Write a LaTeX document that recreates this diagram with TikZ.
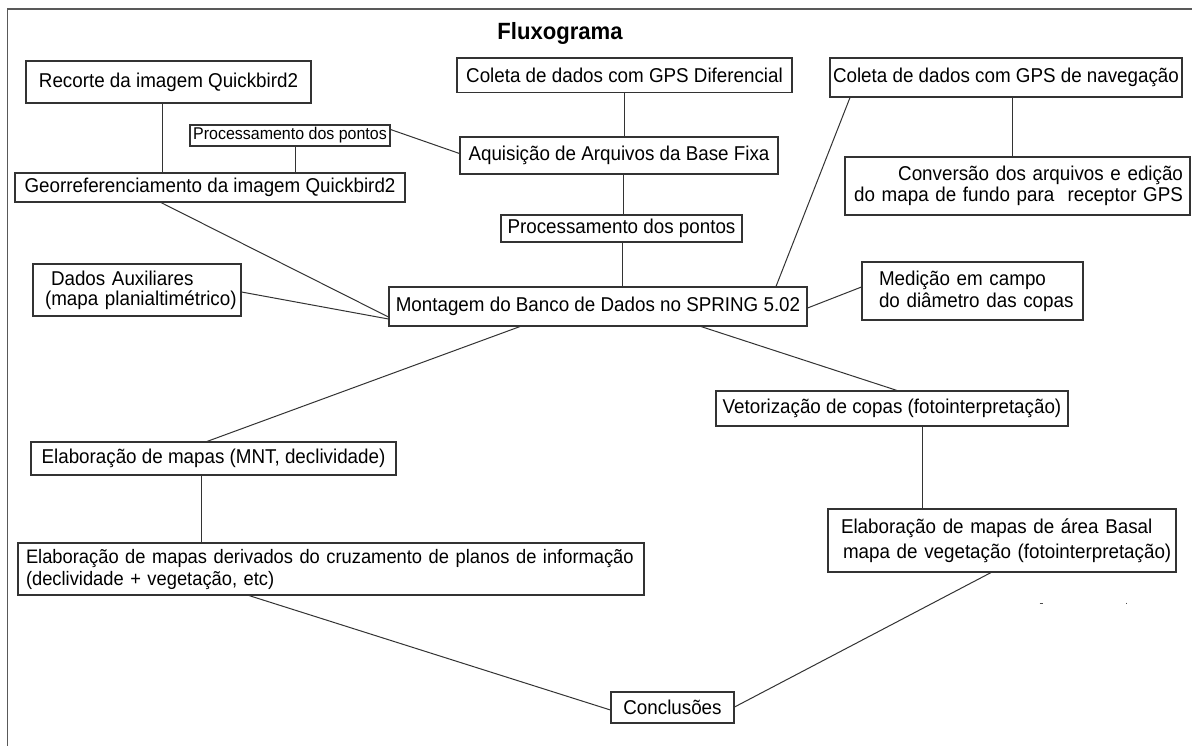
\documentclass[tikz,border=0pt]{standalone}
\usepackage{fontspec}
\setmainfont[FakeStretch=0.94]{Liberation Sans}
\usetikzlibrary{calc}
\newcommand\boxfont{\fontsize{20}{22}\selectfont}
\newcommand\smallboxfont{\fontsize{17}{20}\selectfont}
\newcommand\longfont{\fontsize{19.5}{22}\selectfont}
\begin{document}
\begin{tikzpicture}[x=1pt,y=-1pt,
  box/.style={draw=black!80, line width=1.1pt, inner sep=0pt, font=\boxfont},
  link/.style={draw=black!80, line width=1pt},
  frame/.style={draw=black!65, line width=1.4pt},
  speck/.style={draw=black!70, line width=1pt}]
\useasboundingbox (0,0) rectangle (1192,745);
\clip (0,0) rectangle (1192,745);
\fill[white] (0,0) rectangle (1192,745);
% outer frame
\draw[frame] (7.5,760) -- (7.5,9) -- (1200,9);

% title
\node[font=\fontsize{23.5}{26}\selectfont\bfseries] (title) at (560,33) {Fluxograma};

% boxes
\node[box, minimum width=285pt, minimum height=42pt] (rec) at (168.5,82) {Recorte da imagem Quickbird2};
\node[box, minimum width=335pt, minimum height=34.5pt] (dif) at (624.5,75.25) {Coleta de dados com GPS Diferencial};
\node[box, minimum width=352pt, minimum height=39pt] (nav) at (1006,77.5) {Coleta de dados com GPS de navegação};
\node[box, font=\smallboxfont, minimum width=200pt, minimum height=21pt] (procL) at (290,135.5) {Processamento dos pontos};
\node[box, minimum width=318pt, minimum height=37pt] (aqu) at (619,155.5) {Aquisição de Arquivos da Base Fixa};
\node[box, minimum width=390pt, minimum height=29pt] (geo) at (210,187.5) {Georreferenciamento da imagem Quickbird2};
\node[box, minimum width=345pt, minimum height=58pt, text width=331pt, align=right] (conv) at (1017.5,186)
  {\mbox{Conversão dos arquivos e edição}\\[-1pt]\mbox{do mapa de fundo para\ \ receptor GPS}};
\node[box, minimum width=241pt, minimum height=27pt] (procC) at (621.5,228.5) {Processamento dos pontos};
\node[box, minimum width=208pt, minimum height=52pt, text width=184pt, align=left] (aux) at (137,290)
  {\mbox{\hspace*{6pt}Dados Auxiliares}\\[-2pt]\mbox{(mapa planialtimétrico)}};
\node[box, minimum width=418pt, minimum height=39pt] (mon) at (598,306.5) {Montagem do Banco de Dados no SPRING 5.02};
\node[box, minimum width=221pt, minimum height=58pt, text width=187pt, align=left] (med) at (972.5,291)
  {\mbox{Medição em campo}\\\mbox{do diâmetro das copas}};
\node[box, minimum width=352pt, minimum height=35pt] (vet) at (892,408.5) {Vetorização de copas (fotointerpretação)};
\node[box, minimum width=365pt, minimum height=33pt] (mnt) at (213.5,458.5) {Elaboração de mapas (MNT, declividade)};
\node[box, font=\longfont, minimum width=626pt, minimum height=52pt, text width=610pt, align=left] (der) at (331,569)
  {\mbox{Elaboração de mapas derivados do cruzamento de planos de informação}\\\mbox{(declividade + vegetação, etc)}};
\node[box, minimum width=348pt, minimum height=63pt, text width=322pt, align=left] (bas) at (1002,540.5)
  {\mbox{Elaboração de mapas de área Basal}\\[3pt]\mbox{\hspace*{2pt}mapa de vegetação (fotointerpretação)}};
\node[box, minimum width=123pt, minimum height=31pt] (con) at (672.5,707.5) {Conclusões};

% connectors
\coordinate (recA) at ([xshift=-6.5pt]rec.south);
\draw[link] (recA) -- (recA |- geo.north);
\coordinate (procLA) at ([xshift=5pt]procL.south);
\draw[link] (procLA) -- (procLA |- geo.north);
\draw[link] ([yshift=6pt]procL.east) -- ([yshift=2pt]aqu.west);
\coordinate (difA) at ([xshift=-0.5pt]dif.south);
\draw[link] (difA) -- (difA |- aqu.north);
\coordinate (aquA) at ([xshift=4pt]aqu.south);
\draw[link] (aquA) -- (aquA |- procC.north);
\coordinate (procCA) at ([xshift=0.5pt]procC.south);
\draw[link] (procCA) -- (procCA |- mon.north);
\draw[link] ([xshift=-49pt]geo.south) -- ([yshift=-10.5pt]mon.west);
\draw[link] ([yshift=-2pt]aux.east) -- ([yshift=-12.5pt]mon.west);
\draw[link] ([xshift=-156pt]nav.south) -- ([xshift=178pt]mon.north);
\coordinate (navA) at ([xshift=6pt]nav.south);
\draw[link] (navA) -- (navA |- conv.north);
\draw[link] ([yshift=-1.5pt]mon.east) -- ([yshift=4pt]med.west);
\draw[link] ([xshift=-78pt]mon.south) -- ([xshift=-6.5pt]mnt.north);
\draw[link] ([xshift=103pt]mon.south) -- ([xshift=5pt]vet.north);
\coordinate (vetA) at ([xshift=30pt]vet.south);
\draw[link] (vetA) -- (vetA |- bas.north);
\coordinate (mntA) at ([xshift=-12.5pt]mnt.south);
\draw[link] (mntA) -- (mntA |- der.north);
\draw[link] ([xshift=-82pt]der.south) -- ([yshift=-2.5pt]con.west);
\draw[link] ([xshift=-11pt]bas.south) -- ([yshift=0.5pt]con.east);

% two small specks below the basal-area box
\draw[speck] (1039.5,603) -- (1042.5,603);
\draw[speck] (1126,602.5) -- (1126,604);
\end{tikzpicture}
\end{document}
